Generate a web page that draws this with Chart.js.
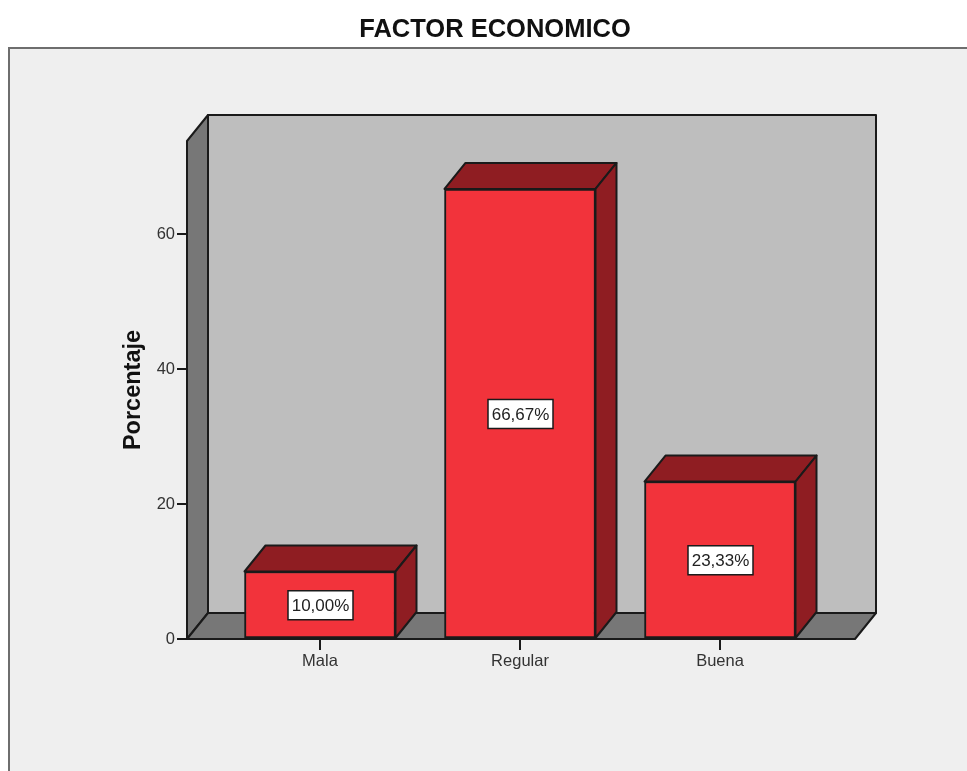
<!DOCTYPE html>
<html lang="es">
<head>
<meta charset="utf-8">
<title>FACTOR ECONOMICO</title>
<script src="https://cdn.jsdelivr.net/npm/chart.js@4"></script>
<style>
    html, body { margin: 0; height: 100%; background: #fff; overflow: hidden; }
    /* Marco gris que continúa fuera de la ventana */
    #marco {
        position: absolute; left: 8px; top: 47px; right: 0; bottom: 0;
        background: #efefef; border-left: 2px solid #6e6e6e; border-top: 2px solid #6e6e6e;
    }
    #grafico { position: absolute; left: 0; top: 0; }
</style>
</head>
<body>
<div id="marco"></div>
<canvas id="grafico" width="967" height="771"></canvas>
<script>
// Datos
const categorias = ['Mala', 'Regular', 'Buena'];
const porcentajes = [10.00, 66.67, 23.33];
const ticksY = [0, 20, 40, 60];
const titulo = 'FACTOR ECONOMICO';
const tituloY = 'Porcentaje';

// Colores y profundidad del efecto 3D
const FONDO_PARED = '#bebebe';
const LATERAL = '#777777';
const ROJO = '#f2333b';
const ROJO_OSCURO = '#8f1d22';
const LINEA = '#1a1a1a';
const DX = 21;
const DY = 26;

function poligono(ctx, puntos, relleno) {
    ctx.beginPath();
    puntos.forEach(function (p, i) {
        if (i === 0) ctx.moveTo(p[0], p[1]);
        else ctx.lineTo(p[0], p[1]);
    });
    ctx.closePath();
    ctx.fillStyle = relleno;
    ctx.fill();
    ctx.stroke();
}

// Paredes, suelo y caras laterales de las barras
const caja3d = {
    id: 'caja3d',
    beforeDatasetsDraw(chart) {
        const ctx = chart.ctx;
        const a = chart.chartArea;
        ctx.save();
        ctx.lineWidth = 2;
        ctx.strokeStyle = LINEA;
        ctx.lineJoin = 'round';
        poligono(ctx, [[a.left + DX, a.top - DY], [a.right + DX, a.top - DY], [a.right + DX, a.bottom - DY], [a.left + DX, a.bottom - DY]], FONDO_PARED);
        poligono(ctx, [[a.left, a.top], [a.left + DX, a.top - DY], [a.left + DX, a.bottom - DY], [a.left, a.bottom]], LATERAL);
        poligono(ctx, [[a.left, a.bottom], [a.left + DX, a.bottom - DY], [a.right + DX, a.bottom - DY], [a.right, a.bottom]], LATERAL);
        chart.getDatasetMeta(0).data.forEach(function (barra) {
            const izq = barra.x - barra.width / 2;
            const der = barra.x + barra.width / 2;
            poligono(ctx, [[izq, barra.y], [izq + DX, barra.y - DY], [der + DX, barra.y - DY], [der, barra.y]], ROJO_OSCURO);
            poligono(ctx, [[der, barra.y], [der + DX, barra.y - DY], [der + DX, barra.base - DY], [der, barra.base]], ROJO_OSCURO);
        });
        ctx.restore();
    },
    // Etiquetas de valor en su recuadro blanco
    afterDatasetsDraw(chart) {
        const ctx = chart.ctx;
        ctx.save();
        ctx.font = '17px "Liberation Sans"';
        ctx.textAlign = 'center';
        ctx.textBaseline = 'middle';
        chart.getDatasetMeta(0).data.forEach(function (barra, i) {
            const texto = porcentajes[i].toFixed(2).replace('.', ',') + '%';
            const cy = (barra.y + barra.base) / 2;
            ctx.fillStyle = '#fff';
            ctx.strokeStyle = LINEA;
            ctx.lineWidth = 1.5;
            ctx.fillRect(barra.x - 32, cy - 14, 65, 29);
            ctx.strokeRect(barra.x - 32, cy - 14, 65, 29);
            ctx.fillStyle = '#222';
            ctx.fillText(texto, barra.x + 0.5, cy + 1.5);
        });
        ctx.restore();
    }
};

const chart = new Chart(document.getElementById('grafico'), {
    type: 'bar',
    data: {
        datasets: [{
            data: porcentajes.map(function (v, i) { return { x: i, y: v }; }),
            backgroundColor: ROJO,
            borderColor: LINEA,
            borderWidth: 2,
            borderSkipped: false,
            barThickness: 151
        }]
    },
    options: {
        responsive: false,
        animation: false,
        // Los rellenos desiguales dejan el título centrado donde está en el original
        layout: { padding: { left: 135, right: 112 } },
        plugins: {
            legend: { display: false },
            tooltip: { enabled: false },
            title: {
                display: true,
                text: titulo,
                color: '#111',
                font: { family: 'Liberation Sans', size: 25.5, weight: 'bold' },
                padding: { top: 15, bottom: 95.4 }
            }
        },
        scales: {
            x: {
                type: 'linear',
                offset: false,
                min: -0.665,
                max: 2.675,
                afterFit: function (scale) { scale.height = 132; },
                afterBuildTicks: function (scale) {
                    scale.ticks = categorias.map(function (c, i) { return { value: i }; });
                },
                grid: { offset: false, drawOnChartArea: false, color: LINEA, lineWidth: 2, tickLength: 11 },
                border: { display: false },
                ticks: {
                    callback: function (v) { return categorias[v]; },
                    color: '#333',
                    font: { family: 'Liberation Sans', size: 16.5 },
                    padding: 2,
                    maxRotation: 0,
                    autoSkip: false
                }
            },
            y: {
                min: 0,
                max: 73.78,
                afterFit: function (scale) { scale.width = 52; },
                afterBuildTicks: function (scale) {
                    scale.ticks = ticksY.map(function (v) { return { value: v }; });
                },
                grid: { drawOnChartArea: false, color: LINEA, lineWidth: 2, tickLength: 10 },
                border: { display: false },
                ticks: {
                    color: '#333',
                    font: { family: 'Liberation Sans', size: 16.5 },
                    padding: 2
                },
                title: {
                    display: true,
                    text: tituloY,
                    color: '#111',
                    font: { family: 'Liberation Sans', size: 23.5, weight: 'bold' },
                    padding: { top: -16, bottom: 0 }
                }
            }
        }
    },
    plugins: [caja3d]
});
</script>
</body>
</html>
